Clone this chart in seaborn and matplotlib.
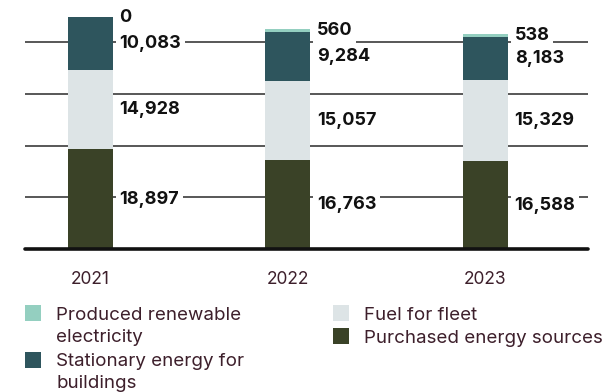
import matplotlib
matplotlib.use("Agg")
import matplotlib.pyplot as plt
from matplotlib.patches import Rectangle
import seaborn as sns
import pandas as pd
import numpy as np

years = ["2021", "2022", "2023"]
purchased = [18897, 16763, 16588]
fuel = [14928, 15057, 15329]
stationary = [10083, 9284, 8183]
renewable = [0, 560, 538]

series_names = ["Purchased energy sources", "Fuel for fleet",
                "Stationary energy for buildings", "Produced renewable electricity"]
series_vals = [purchased, fuel, stationary, renewable]
colors = ["#3a4227", "#dde4e6", "#2e555d", "#94cfc0"]

legend_labels = ["Produced renewable\nelectricity", "Stationary energy for\nbuildings",
                 "Fuel for fleet", "Purchased energy sources"]
legend_colors = [colors[3], colors[2], colors[1], colors[0]]
grid_values = [9800, 19600, 29400, 39200]

sns.set_theme(style="white")
plt.rcParams["font.family"] = ["Inter", "DejaVu Sans"]

fig = plt.figure(figsize=(6.09, 3.92), dpi=100)
ax = fig.add_axes([25 / 609, 1 - 249 / 392, (588 - 25) / 609, 249 / 392])

cum = np.cumsum(np.array(series_vals), axis=0)
df = pd.DataFrame({"year": years})
for k in range(len(series_vals) - 1, -1, -1):
    df["v"] = cum[k]
    sns.barplot(data=df, x="year", y="v", color=colors[k], saturation=1,
                width=0.227, linewidth=0, ax=ax, zorder=2)

ax.set_ylim(0, 47160)
ax.set_xlim(-0.33, 2.52)
ax.set_yticks(grid_values)
ax.set_yticklabels([])
ax.yaxis.grid(True, color="#4a4a4a", lw=1.3)
ax.xaxis.grid(False)
ax.set_axisbelow(True)
for s in ax.spines.values():
    s.set_visible(False)
ax.axhline(0, color="#111111", lw=2.6, clip_on=False, zorder=3)
ax.set_xlabel("")
ax.set_ylabel("")
ax.tick_params(axis="x", length=0, pad=15.5, labelsize=12.5, labelcolor="#3d1f2b")
ax.tick_params(axis="y", length=0)

# value labels
half = 0.227 / 2
for i in range(len(years)):
    bottom = 0
    for k, vals in enumerate(series_vals):
        v = vals[i]
        y = bottom + v / 2
        ax.annotate(f"{v:,}", xy=(i + half, y), xytext=(5.0, 0),
                    textcoords="offset points", ha="left", va="center",
                    fontsize=13, fontweight="bold", color="#111111",
                    bbox=dict(boxstyle="square,pad=0.2", fc="white", ec="none"),
                    zorder=5)
        bottom += v

# legend
W, H = 609, 392
sq = [(25, 305), (25, 352), (333, 305), (333, 328)]
tx = [(56, 307), (56, 353), (364, 307), (364, 330)]
for (x, y), (tx_, ty), lab, c in zip(sq, tx, legend_labels, legend_colors):
    fig.patches.append(Rectangle((x / W, 1 - (y + 16) / H), 16 / W, 16 / H,
                                 transform=fig.transFigure, fc=c, ec="none"))
    fig.text(tx_ / W, 1 - ty / H, lab, ha="left", va="top",
             fontsize=13.5, color="#3d1f2b", linespacing=1.42)

fig.savefig("out.png", dpi=100)
